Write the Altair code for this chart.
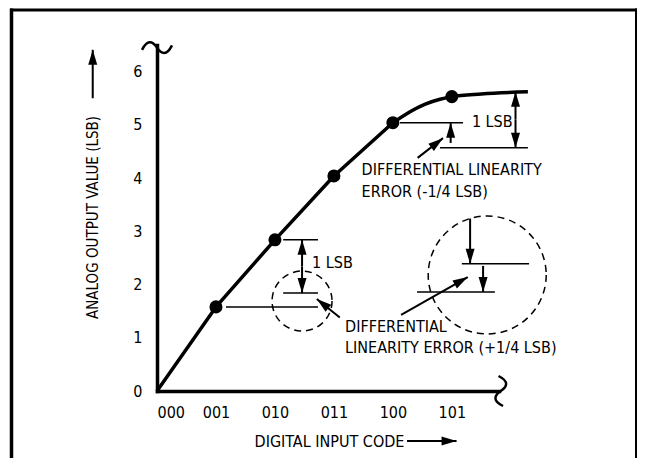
import math
import altair as alt
import pandas as pd

# ---------------- data ----------------
codes = ["000", "001", "010", "011", "100", "101"]
code_pos = [0, 1, 2, 3, 4, 5]
out_ticks = [0, 1, 2, 3, 4, 5, 6]

# straight part of the transfer curve (codes 000..100)
line_x = [0, 1, 2, 3, 4]
line_y = [0, 1.58, 2.84, 4.04, 5.04]
# rounded top part (from code 100 onward)
bend_x = [4, 4.25, 4.55, 4.8, 5, 5.5, 6.29]
bend_y = [5.04, 5.22, 5.39, 5.48, 5.53, 5.58, 5.62]

dot_x = [1, 2, 3, 4, 5]
dot_y = [1.58, 2.84, 4.04, 5.04, 5.53]

# horizontal reference lines
seg_x1 = [1.17, 2.14, 2.14, 5.17, 4.41, 4.12, 4.80]
seg_x2 = [2.73, 2.73, 2.73, 6.31, 5.73, 5.19, 6.29]
seg_y = [1.58, 2.84, 1.84, 2.39, 1.86, 5.04, 4.57]

# arrows: tail (x1, y1) -> head (x2, y2)
arr_x1 = [2.46, 2.46, 3.10, 5.31, 5.53, 4.14, 4.98, 6.08, 6.08, 4.42, -1.09, 4.24]
arr_y1 = [2.34, 2.34, 1.38, 3.24, 2.35, 1.43, 4.66, 5.10, 5.10, 4.38, 5.50, -0.94]
arr_x2 = [2.46, 2.46, 2.71, 5.31, 5.53, 5.27, 4.98, 6.08, 6.08, 4.85, -1.09, 5.08]
arr_y2 = [2.84, 1.84, 1.73, 2.39, 1.86, 2.14, 5.04, 5.62, 4.57, 4.75, 6.41, -0.94]

note_text = ["1 LSB", "DIFFERENTIAL", "LINEARITY ERROR (+1/4 LSB)",
             "1 LSB", "DIFFERENTIAL LINEARITY", "ERROR (-1/4 LSB)"]
note_x = [2.63, 3.19, 3.19, 5.34, 3.47, 3.47]
note_y = [2.41, 1.20, 0.81, 5.06, 4.15, 3.74]

small_ring_x = [2.46]
small_ring_y = [1.69]
big_ring_x = [5.60]
big_ring_y = [2.18]

tilde_x = [0, 5.83]
tilde_y = [6.45, 0]
tilde_ang = [0, 90]

# ---------------- layout ----------------
W, H = 342, 346
XDOM = [0, 5.8]
YDOM = [0, 6.5]
kx = W / (XDOM[1] - XDOM[0])
ky = H / (YDOM[1] - YDOM[0])

FONT = "DejaVu Sans Condensed"
FS = 16
HEAD = "M0,0L-0.3,1L0.3,1Z"
TILDE = "M-1,0.15C-0.65,-0.55 -0.3,-0.45 0,0C0.3,0.45 0.65,0.55 1,-0.15"

xs = alt.Scale(domain=XDOM, nice=False, zero=False)
ys = alt.Scale(domain=YDOM, nice=False, zero=False)
label_expr = "[" + ",".join("'%s'" % c for c in codes) + "][datum.value]"

line_df = pd.DataFrame({"x": line_x, "y": line_y})
bend_df = pd.DataFrame({"x": bend_x, "y": bend_y})
dots_df = pd.DataFrame({"x": dot_x, "y": dot_y})
seg_df = pd.DataFrame({"x1": seg_x1, "x2": seg_x2, "y": seg_y})
arr_df = pd.DataFrame({"x1": arr_x1, "y1": arr_y1, "x2": arr_x2, "y2": arr_y2})
arr_df["ang"] = [
    (math.degrees(math.atan2((b - a) * kx, (d - c) * ky)) + 360) % 360
    for a, b, c, d in zip(arr_x1, arr_x2, arr_y1, arr_y2)
]
note_df = pd.DataFrame({"t": note_text, "x": note_x, "y": note_y})
sring_df = pd.DataFrame({"x": small_ring_x, "y": small_ring_y})
bring_df = pd.DataFrame({"x": big_ring_x, "y": big_ring_y})
tilde_df = pd.DataFrame({"x": tilde_x, "y": tilde_y, "a": tilde_ang})
one = pd.DataFrame({"k": [0]})

x_axis = alt.Axis(
    values=code_pos, labelExpr=label_expr, title="DIGITAL INPUT CODE",
    titleX=172, titleY=50, titleAlign="center", titleBaseline="middle",
    labelPadding=13)
y_axis = alt.Axis(
    values=out_ticks, title="ANALOG OUTPUT VALUE (LSB)",
    titleX=-65, titleY=172, titleAlign="center", titleBaseline="middle",
    titleAngle=270, labelPadding=15, titleFontSize=15)

X = lambda f: alt.X(f, type="quantitative", scale=xs, axis=x_axis)
Y = lambda f: alt.Y(f, type="quantitative", scale=ys, axis=y_axis)

line = alt.Chart(line_df).mark_line(
    color="black", strokeWidth=3.5, clip=False, strokeJoin="round"
).encode(x=X("x"), y=Y("y"))

bend = alt.Chart(bend_df).mark_line(
    color="black", strokeWidth=3.5, interpolate="monotone", clip=False
).encode(x=X("x"), y=Y("y"))

dots = alt.Chart(dots_df).mark_circle(size=170, color="black", opacity=1).encode(
    x=X("x"), y=Y("y"))

segs = alt.Chart(seg_df).mark_rule(color="black", strokeWidth=1.5).encode(
    x=X("x1"), x2="x2:Q", y=Y("y"))

shafts = alt.Chart(arr_df).mark_rule(color="black", strokeWidth=2).encode(
    x=X("x1"), y=Y("y1"), x2="x2:Q", y2="y2:Q")

heads = alt.Chart(arr_df).mark_point(
    shape=HEAD, filled=True, color="black", size=900, opacity=1, strokeWidth=0
).encode(x=X("x2"), y=Y("y2"), angle=alt.Angle("ang:Q", scale=None))

sring = alt.Chart(sring_df).mark_point(
    shape="circle", size=3600, filled=False, color="black", strokeWidth=1.5,
    strokeDash=[7, 5], opacity=1).encode(x=X("x"), y=Y("y"))

bring = alt.Chart(bring_df).mark_point(
    shape="circle", size=13924, filled=False, color="black", strokeWidth=1.5,
    strokeDash=[7, 5], opacity=1).encode(x=X("x"), y=Y("y"))

tildes = alt.Chart(tilde_df).mark_point(
    shape=TILDE, size=900, filled=False, color="black", strokeWidth=2.5, opacity=1
).encode(x=X("x"), y=Y("y"), angle=alt.Angle("a:Q", scale=None))

notes = alt.Chart(note_df).mark_text(
    align="left", baseline="middle", fontSize=FS, font=FONT, color="black"
).encode(x=X("x"), y=Y("y"), text="t:N")

frame_left = alt.Chart(one).mark_rule(color="black", strokeWidth=3.5).encode(
    x=alt.value(-145.5), y=alt.value(-36.5), y2=alt.value(420))
frame_top = alt.Chart(one).mark_rule(color="black", strokeWidth=3).encode(
    x=alt.value(-147), x2=alt.value(480), y=alt.value(-35))
frame_right = alt.Chart(one).mark_rule(color="black", strokeWidth=2).encode(
    x=alt.value(479), y=alt.value(-36.5), y2=alt.value(420))

chart = alt.layer(
    frame_left, frame_top, frame_right,
    sring, bring, segs, shafts, heads, tildes, line, bend, dots, notes
).properties(
    width=W, height=H, autosize="none",
    padding={"left": 149, "top": 37, "right": 138, "bottom": 67},
    background="white",
).configure(font=FONT).configure_view(stroke=None).configure_axis(
    labelFont=FONT, titleFont=FONT, labelFontSize=FS, titleFontSize=FS,
    labelColor="black", titleColor="black", titleFontWeight="normal",
    domainColor="black", domainWidth=3.5, domainCap="square",
    ticks=False, tickSize=0, grid=False,
)

chart.save("out.html", embed_options={"renderer": "svg", "actions": False})
